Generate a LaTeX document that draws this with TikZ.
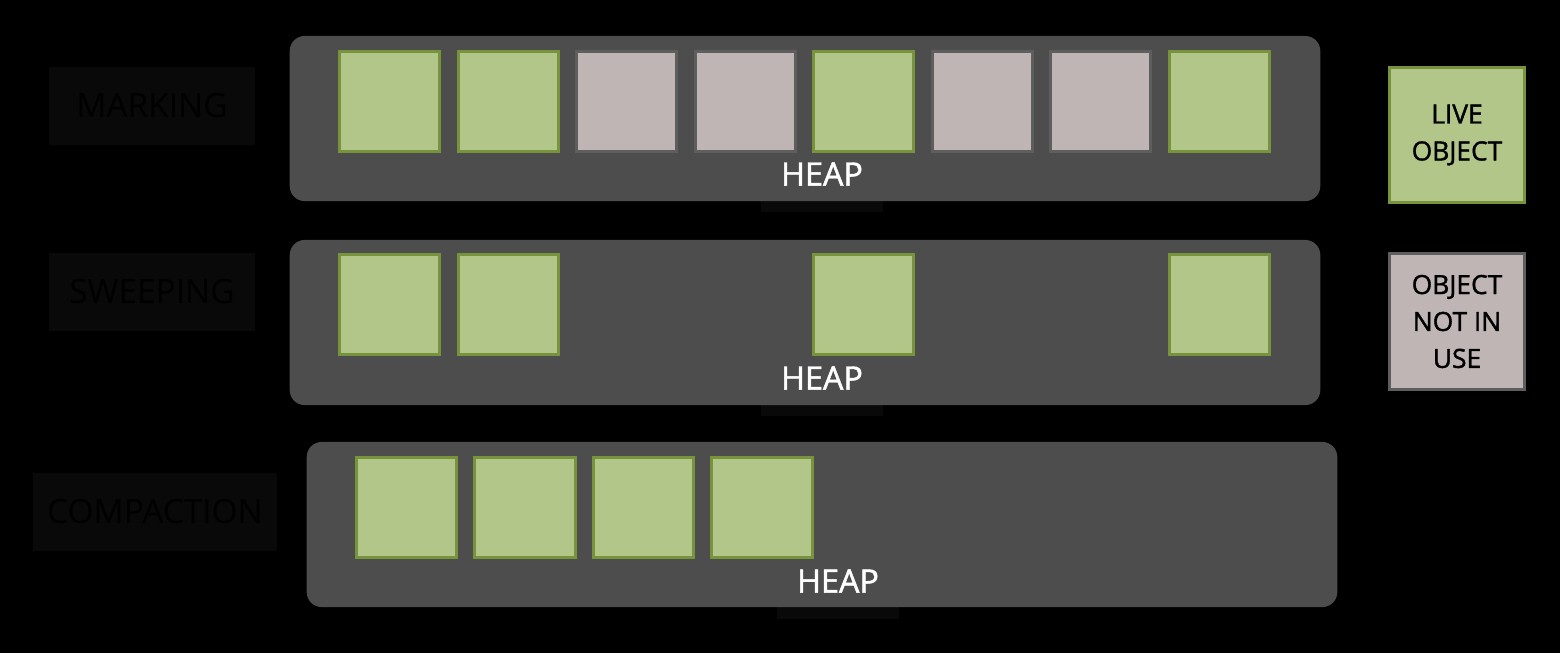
\documentclass[tikz,border=0pt]{standalone}
\usepackage{fontspec}
\setmainfont{Open Sans}
\newfontfamily\heapfont[FakeBold=1.4]{Open Sans}
\definecolor{heapgrey}{HTML}{4D4D4D}
\definecolor{livefill}{HTML}{B3C68A}
\definecolor{liveedge}{HTML}{77933C}
\definecolor{freefill}{HTML}{BFB5B5}
\definecolor{freeedge}{HTML}{5E5E5E}
\definecolor{phasebox}{HTML}{090909}
\begin{document}
\begin{tikzpicture}[x=0.01cm, y=-0.01cm,
    heap/.style={fill=heapgrey, rounded corners=0.15cm, minimum width=10.3cm, minimum height=1.65cm, inner sep=0},
    live/.style={draw=liveedge, fill=livefill, line width=0.85pt, minimum size=1.0cm, inner sep=0},
    free/.style={draw=freeedge, fill=freefill, line width=0.85pt, minimum size=1.0cm, inner sep=0},
    heapback/.style={fill=phasebox, minimum width=1.21cm, minimum height=0.76cm},
    heaplabel/.style={text=white, font=\heapfont\fontsize{9.2}{11}\selectfont},
    phase/.style={fill=phasebox, text=black, minimum height=0.77cm, font=\fontsize{9.5}{11}\selectfont},
    legend/.style={minimum size=1.35cm, align=center, font=\heapfont\fontsize{7.5}{10.5}\selectfont}
]
    % Background
    \fill[black] (0,0) rectangle (1560,653);
    \useasboundingbox (0,0) rectangle (1560,653);
    % Phase labels
    \node[phase, minimum width=2.05cm] (marking) at (152,106) {MARKING};
    \node[phase, minimum width=2.05cm] (sweeping) at (152,292) {SWEEPING};
    \node[phase, minimum width=2.44cm] (compaction) at (155,512) {COMPACTION};
    % Heap label boxes, partly hidden by the heaps
    \node[heapback] (heapbackA) at (822,174) {};
    \node[heapback] (heapbackB) at (822,378) {};
    \node[heapback] (heapbackC) at (838,581) {};
    % Heaps
    \node[heap] (heapA) at (805,118.5) {};
    \node[heap] (heapB) at (805,322.5) {};
    \node[heap] (heapC) at (822,524.5) {};
    % Marking: live and unused objects
    \foreach \kind [count=\i from 0] in {live,live,free,free,live,free,free,live}
        \node[\kind] (markobj\i) at ({389.5+118.57*\i},101.5) {};
    % Sweeping: only live objects are left
    \foreach \i in {0,1,4,7}
        \node[live] (sweepobj\i) at ({389.5+118.57*\i},304.5) {};
    % Compaction: live objects moved together
    \foreach \i in {0,...,3}
        \node[live] (compobj\i) at ({406.5+118.5*\i},507.5) {};
    % Heap labels
    \node[heaplabel] (heaplabelA) at (heapbackA) {HEAP};
    \node[heaplabel] (heaplabelB) at (heapbackB) {HEAP};
    \node[heaplabel] (heaplabelC) at (heapbackC) {HEAP};
    % Legend
    \node[live, legend] (legendlive) at (1457,135) {LIVE\\OBJECT};
    \node[free, legend] (legendfree) at (1457,321.5) {OBJECT\\NOT IN\\USE};
\end{tikzpicture}
\end{document}
